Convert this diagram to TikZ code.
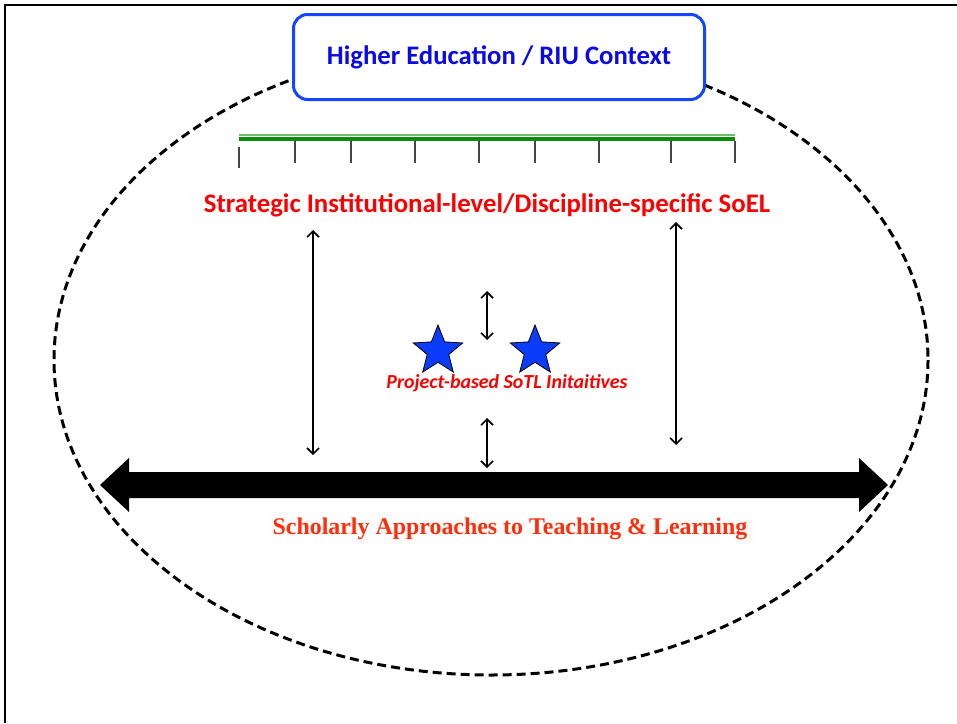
\documentclass[tikz,border=0pt]{standalone}
\usepackage{fontspec}
\setmainfont{Carlito}
\newfontfamily\timesfont{Liberation Serif}
\usepackage{tikz}
\usetikzlibrary{positioning}
\usetikzlibrary{arrows.meta}
\usetikzlibrary{shapes.geometric}
\definecolor{ctxblue}{RGB}{20,70,255}
\definecolor{txtblue}{RGB}{10,10,230}
\definecolor{soelred}{RGB}{250,0,0}
\definecolor{satred}{RGB}{255,45,10}
\definecolor{bargreen}{RGB}{10,140,10}
\definecolor{barlight}{RGB}{110,190,110}
\definecolor{tickgray}{RGB}{70,70,70}
\definecolor{starblue}{RGB}{10,60,250}
\begin{document}
\begin{tikzpicture}[x=1pt,y=-1pt,>={Straight Barb[length=6pt,width=12pt]}]
        \tikzset{context/.style={draw=ctxblue,line width=3pt,rounded corners=14pt,fill=white,
                 minimum width=411pt,minimum height=85pt,text=txtblue,font=\fontsize{26.7}{30}\selectfont\bfseries}}
        \tikzset{level/.style={text=soelred,font=\fontsize{26.8}{30}\selectfont\bfseries}}
        \tikzset{initiative/.style={text=soelred,font=\fontsize{19.9}{22}\selectfont\bfseries\itshape}}
        \tikzset{approach/.style={text=satred,font=\timesfont\fontsize{23.9}{27}\selectfont\bfseries}}
        \tikzset{sotl/.style={star,star points=5,star point ratio=2.3,draw=black,line width=0.8pt,
                 fill=starblue,minimum size=52pt,inner sep=0pt}}
        \tikzset{link/.style={<->,line width=1.6pt}}

        \useasboundingbox (0,0) rectangle (957,723);
        \draw[line width=2pt] (5,723) -- (5,5) -- (957,5);

        \draw[line width=3pt,dash pattern=on 9pt off 5pt] (491,360) ellipse [x radius=437,y radius=315];

        \node[context] (ctx) at (499,57) {Higher Education / RIU Context};

        % institutional scale bar
        \draw[barlight,line width=1.5pt] (239,135) -- (735,135);
        \draw[bargreen,line width=3.5pt] (239,139) -- (735,139);
        \draw[tickgray,line width=1.5pt] (239,147) -- (239,168);
        \foreach \x in {295,351,415,479,535,599,671,735}
            \draw[tickgray,line width=1.5pt] (\x,141) -- (\x,163);

        \node[level] (soel) at (487,205) {Strategic Institutional-level/Discipline-specific SoEL};

        \node[sotl] (s1) at (438,351) {};
        \node[sotl] (s2) at (535,351) {};
        \node[initiative] (proj) at (507,383) {Project-based SoTL Initaitives};

        \fill (100,485) -- (129,458) -- (129,472) -- (859,472) -- (859,458) -- (888,485)
              -- (859,512) -- (859,498) -- (129,498) -- (129,512) -- cycle;
        \coordinate (satl) at (313,455);
        \coordinate (satr) at (676,445);
        \coordinate (satc) at (487,468);
        \coordinate (soell) at (313,230);
        \coordinate (soelr) at (676,222);
        \coordinate (projt) at (487,291);
        \coordinate (projm) at (487,340);
        \coordinate (projb) at (487,418);

        \node[approach] (sat) at (510,529) {Scholarly Approaches to Teaching \& Learning};

        \path (soell) edge[link] (satl);
        \path (soelr) edge[link] (satr);
        \path (projt) edge[link] (projm);
        \path (projb) edge[link] (satc);
    \end{tikzpicture}
\end{document}
